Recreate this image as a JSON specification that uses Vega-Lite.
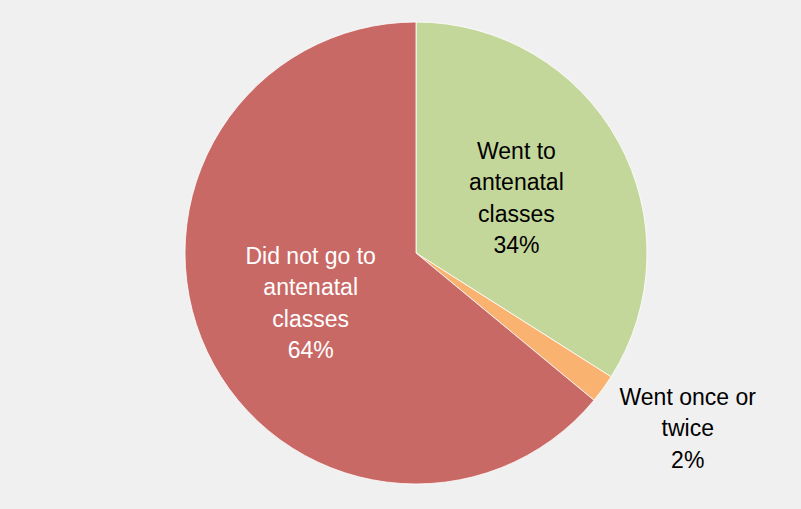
{
  "$schema": "https://vega.github.io/schema/vega-lite/v6.json",
  "width": 801,
  "height": 509,
  "autosize": {"type": "fit", "contains": "padding"},
  "padding": {"left": 31, "top": 0, "right": 0, "bottom": 3},
  "background": "#f0f0f0",
  "view": {"stroke": null},
  "data": {
    "values": [
      {"order": 1, "category": "Went to antenatal classes", "value": 34, "label": "Went to\nantenatal\nclasses\n34%"},
      {"order": 2, "category": "Went once or twice", "value": 2, "label": "Went once or\ntwice\n2%"},
      {"order": 3, "category": "Did not go to antenatal classes", "value": 64, "label": "Did not go to\nantenatal\nclasses\n64%"}
    ]
  },
  "transform": [
    {"stack": "value", "groupby": [], "sort": [{"field": "order", "order": "ascending"}], "as": ["v0", "v1"]}
  ],
  "encoding": {
    "theta": {"field": "v0", "type": "quantitative", "scale": {"domain": [0, 100]}},
    "theta2": {"field": "v1"}
  },
  "layer": [
    {
      "mark": {"type": "arc", "outerRadius": 231, "stroke": "#ffffff", "strokeWidth": 0.8},
      "encoding": {
        "color": {
          "field": "category",
          "type": "nominal",
          "scale": {
            "domain": ["Went to antenatal classes", "Went once or twice", "Did not go to antenatal classes"],
            "range": ["#c4d79b", "#f9b26f", "#c96966"]
          },
          "legend": null
        }
      }
    },
    {
      "transform": [{"filter": "datum.order == 1"}],
      "mark": {"type": "text", "radius": 114, "thetaOffset": 1.078, "dy": -47, "font": "Liberation Sans", "fontSize": 23, "lineBreak": "\n", "lineHeight": 31.3, "align": "center", "baseline": "middle", "color": "#000000"},
      "encoding": {"text": {"field": "label", "type": "nominal"}}
    },
    {
      "transform": [{"filter": "datum.order == 2"}],
      "mark": {"type": "text", "radius": 324, "thetaOffset": 0.0105, "dy": -31.3, "font": "Liberation Sans", "fontSize": 23, "lineBreak": "\n", "lineHeight": 31.3, "align": "center", "baseline": "middle", "color": "#000000"},
      "encoding": {"text": {"field": "label", "type": "nominal"}}
    },
    {
      "transform": [{"filter": "datum.order == 3"}],
      "mark": {"type": "text", "radius": 117, "thetaOffset": 2.0, "dy": -47, "font": "Liberation Sans", "fontSize": 23, "lineBreak": "\n", "lineHeight": 31.3, "align": "center", "baseline": "middle", "color": "#ffffff"},
      "encoding": {"text": {"field": "label", "type": "nominal"}}
    }
  ]
}
